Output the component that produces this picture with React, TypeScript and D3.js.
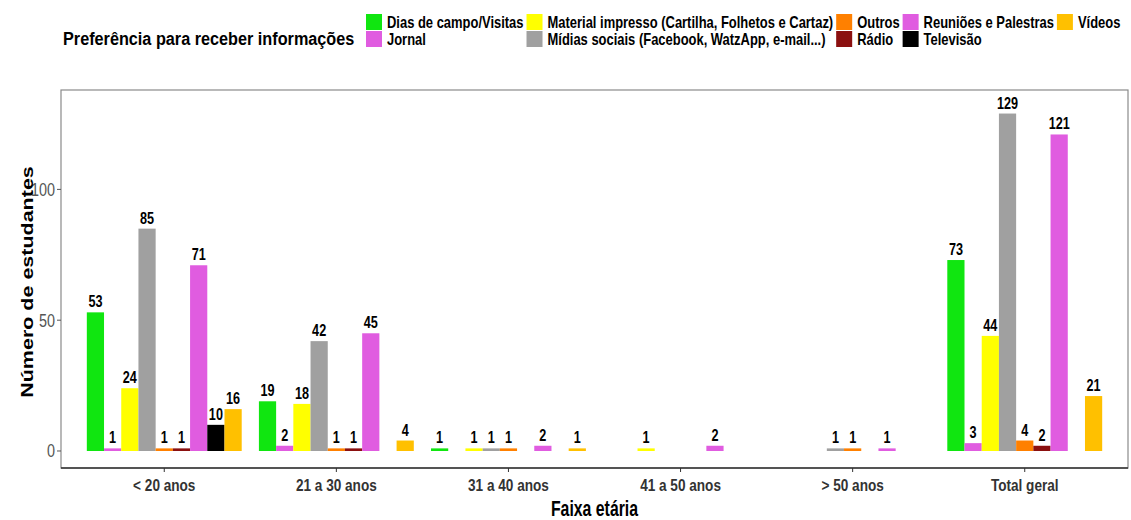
import React, { useEffect, useRef } from "react";
import * as d3 from "d3";

const categories = ["< 20 anos", "21 a 30 anos", "31 a 40 anos", "41 a 50 anos", "> 50 anos", "Total geral"];
const seriesNames = [
  "Dias de campo/Visitas",
  "Jornal",
  "Material impresso (Cartilha, Folhetos e Cartaz)",
  "Mídias sociais (Facebook, WatzApp, e-mail...)",
  "Outros",
  "Rádio",
  "Reuniões e Palestras",
  "Televisão",
  "Vídeos",
];
const seriesColors = ["#10E610", "#E05CE0", "#FFFF00", "#A0A0A0", "#FF8000", "#8B1010", "#E05CE0", "#000000", "#FFC000"];

const diasValues = [53, 19, 1, null, null, 73];
const jornalValues = [1, 2, null, null, null, 3];
const materialValues = [24, 18, 1, 1, null, 44];
const midiasValues = [85, 42, 1, null, 1, 129];
const outrosValues = [1, 1, 1, null, 1, 4];
const radioValues = [1, 1, null, null, null, 2];
const reunioesValues = [71, 45, 2, 2, 1, 121];
const televisaoValues = [10, null, null, null, null, null];
const videosValues = [16, 4, 1, null, null, 21];

const seriesValues = [
  diasValues, jornalValues, materialValues, midiasValues, outrosValues,
  radioValues, reunioesValues, televisaoValues, videosValues,
];
const yTicks = [0, 50, 100];

const W = 1131;
const H = 520;
const FONT = "'Liberation Sans', Arial, sans-serif";

type TOpts = { size: number; scale: number; weight?: string; anchor?: string; fill?: string; dy?: string };

function addText(parent: any, x: number, y: number, str: string, o: TOpts) {
  return parent.append("text")
    .attr("transform", `translate(${x},${y}) scale(${o.scale},1)`)
    .attr("text-anchor", o.anchor || "start")
    .attr("dy", o.dy || null)
    .attr("font-family", FONT)
    .attr("font-weight", o.weight || "normal")
    .attr("font-size", o.size)
    .attr("fill", o.fill || "#000")
    .text(str);
}

export default function App() {
  const ref = useRef<SVGSVGElement | null>(null);

  useEffect(() => {
    const svg = d3.select(ref.current);
    svg.selectAll("*").remove();

    const panel = { left: 61, right: 1128, top: 90, bottom: 468 };

    const x = d3.scaleLinear().domain([0.4, categories.length + 0.6]).range([panel.left, panel.right]);
    const unit = x(2) - x(1);
    const inner = d3.scaleBand<number>().domain(d3.range(seriesNames.length)).range([-unit * 0.45, unit * 0.45]).padding(0);
    const y = d3.scaleLinear().domain([-6.5, 138]).range([panel.bottom, panel.top]);

    svg.append("rect")
      .attr("x", panel.left).attr("y", panel.top)
      .attr("width", panel.right - panel.left).attr("height", panel.bottom - panel.top)
      .attr("fill", "white").attr("stroke", "#8a8a8a").attr("stroke-width", 1.2);
    svg.append("line")
      .attr("x1", panel.left).attr("x2", panel.right)
      .attr("y1", panel.bottom).attr("y2", panel.bottom)
      .attr("stroke", "#333").attr("stroke-width", 1.4);

    const g = svg.append("g");
    seriesValues.forEach((vals, si) => {
      vals.forEach((v, ci) => {
        if (v == null) return;
        const bx = x(ci + 1) + (inner(si) as number);
        g.append("rect")
          .attr("x", bx).attr("y", y(v))
          .attr("width", inner.bandwidth()).attr("height", y(0) - y(v))
          .attr("fill", seriesColors[si]);
        addText(g, bx + inner.bandwidth() / 2, y(v) - 5, String(v), { size: 16, scale: 0.79, weight: "bold", anchor: "middle" });
      });
    });

    yTicks.forEach((t) => {
      svg.append("line")
        .attr("x1", panel.left - 4).attr("x2", panel.left)
        .attr("y1", y(t)).attr("y2", y(t))
        .attr("stroke", "#555").attr("stroke-width", 1);
      addText(svg, panel.left - 6, y(t), String(t), { size: 18, scale: 0.8, anchor: "end", dy: "0.35em", fill: "#555" });
    });

    categories.forEach((c, i) => {
      svg.append("line")
        .attr("x1", x(i + 1)).attr("x2", x(i + 1))
        .attr("y1", panel.bottom).attr("y2", panel.bottom + 4)
        .attr("stroke", "#333").attr("stroke-width", 1);
      addText(svg, x(i + 1), 491, c, { size: 17, scale: 0.8, weight: "bold", anchor: "middle", fill: "#333" });
    });

    addText(svg, (panel.left + panel.right) / 2, 516, "Faixa etária", { size: 22, scale: 0.72, weight: "bold", anchor: "middle" });
    svg.append("text")
      .attr("transform", `translate(33,${(panel.top + panel.bottom) / 2 + 3}) scale(0.8,1) rotate(-90)`)
      .attr("text-anchor", "middle")
      .attr("font-family", FONT).attr("font-weight", "bold").attr("font-size", 21.5).attr("fill", "#000")
      .text("Número de estudantes");

    const legend = svg.append("g");
    addText(legend, 63, 45, "Preferência para receber informações", { size: 19, scale: 0.855, weight: "bold" });

    const rows = 2;
    const cols = Math.ceil(seriesNames.length / rows);
    const keySize = 16;
    const rowY = [14, 31];
    const lScale = 0.81;
    let colX = 366;
    for (let c = 0; c < cols; c++) {
      let maxW = 0;
      for (let r = 0; r < rows; r++) {
        const si = c * rows + r;
        if (si >= seriesNames.length) continue;
        legend.append("rect")
          .attr("x", colX).attr("y", rowY[r])
          .attr("width", keySize).attr("height", keySize)
          .attr("fill", seriesColors[si]);
        const t = addText(legend, colX + keySize + 5, rowY[r] + keySize / 2, seriesNames[si], { size: 16, scale: lScale, weight: "bold", dy: "0.35em" });
        const node = t.node() as SVGTextElement;
        maxW = Math.max(maxW, node.getComputedTextLength() * lScale);
      }
      colX += keySize + 5 + maxW + 3;
    }
  }, []);

  return (
    <svg ref={ref} width={W} height={H} style={{ display: "block", position: "absolute", left: 0, top: 0, background: "white" }} />
  );
}
